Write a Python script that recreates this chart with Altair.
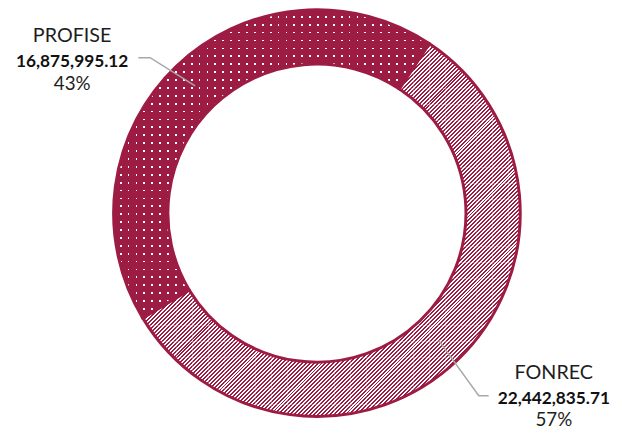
import math
import altair as alt
import pandas as pd

# ---- data ----
categories = ["FONREC", "PROFISE"]
values = [22442835.71, 16875995.12]
value_labels = ["22,442,835.71", "16,875,995.12"]
pct_labels = ["57%", "43%"]

# ---- layout / style ----
W, H = 614, 429
CX, CY = 313, 205
R_OUT, R_IN = 206, 151
START = math.radians(33.5)
RED = "#9d1c44"
WHITE = "#ffffff"
CLEAR = "rgba(157,28,68,0)"
GREY = "#a8a8a8"
FONT = "Lato"
TILE = 16  # hatch texture tile size (px)

# label anchor (name baseline x,y) and leader elbow / end, in pixels
label_pos = {"FONREC": (553, 373), "PROFISE": (65, 32)}
elbow_pos = {"FONREC": (477, 390), "PROFISE": (144, 47.5)}
end_pos = {"FONREC": (487, 390), "PROFISE": (132, 47.5)}

total = sum(values)
t0 = [sum(values[:i]) for i in range(len(values))]
t1 = [t0[i] + values[i] for i in range(len(values))]
df = pd.DataFrame({"cat": categories, "value": values, "t0": t0, "t1": t1,
                   "vlabel": value_labels, "plabel": pct_labels})


def ang(v):
    return START + 2 * math.pi * v / total


def arc_bbox(a, b):
    xs_, ys_ = [], []
    n = 600
    for k in range(n + 1):
        t = a + (b - a) * k / n
        for r in (R_OUT, R_IN):
            xs_.append(CX + r * math.sin(t))
            ys_.append(CY - r * math.cos(t))
    return min(xs_), max(xs_), min(ys_), max(ys_)


def stripe_grad(q, frac_on, on, off, x2, y2):
    """q = one period as a fraction of the gradient vector."""
    stops = []
    s = 0.0
    while s < 1 - 1e-9:
        e = min(s + q * frac_on, 1.0)
        f = min(s + q, 1.0)
        stops += [{"offset": round(s, 6), "color": on}, {"offset": round(e, 6), "color": on},
                  {"offset": round(e, 6), "color": off}, {"offset": round(f, 6), "color": off}]
        s += q
    return {"gradient": "linear", "x1": 0, "y1": 0, "x2": x2, "y2": y2, "stops": stops}


# FONREC hatch texture: tiles of TILE px with 45-degree stripes, 4px horizontal period
hatch = stripe_grad(4 / (2 * TILE), 0.5, RED, WHITE, 1, 1)
x_start, y_start = CX - R_OUT, CY - R_OUT
ntile = math.ceil(2 * R_OUT / TILE)
tiles = pd.DataFrame([{"x": x_start + TILE * i, "x2": x_start + TILE * (i + 1),
                       "y": y_start + TILE * j, "y2": y_start + TILE * (j + 1)}
                      for i in range(ntile) for j in range(ntile)])

# PROFISE: dots = white columns under red layer with clear rows (8px grid)
px0, px1, py0, py1 = arc_bbox(ang(t0[1]), ang(t1[1]))
cols = stripe_grad(8 / (px1 - px0), 6.2 / 8, RED, WHITE, 1, 0)
rows = stripe_grad(8 / (py1 - py0), 6.2 / 8, RED, CLEAR, 0, 1)

xs = alt.Scale(domain=[0, W], range=[0, W])
ys = alt.Scale(domain=[0, H], range=[0, H])
theta_scale = alt.Scale(domain=[0, total], range=[START, START + 2 * math.pi])
base = alt.Chart(df)
one = base.transform_filter(alt.datum.cat == "FONREC")

backdrop = alt.Chart(tiles).mark_rect(fill=hatch, strokeWidth=0).encode(
    x=alt.X("x:Q", scale=xs, axis=None), x2="x2:Q",
    y=alt.Y("y:Q", scale=ys, axis=None), y2="y2:Q")
mask_out = one.mark_arc(x=CX, y=CY, innerRadius=R_OUT, outerRadius=R_OUT + 200,
                        theta=0, theta2=2 * math.pi, fill=WHITE, strokeWidth=0)
mask_in = one.mark_arc(x=CX, y=CY, innerRadius=0, outerRadius=R_IN,
                       theta=0, theta2=2 * math.pi, fill=WHITE, strokeWidth=0)


def arc_layer(cat, fill, stroke=True):
    kw = dict(outerRadius=R_OUT, innerRadius=R_IN, x=CX, y=CY, fill=fill)
    if stroke:
        kw.update(stroke=RED, strokeWidth=3)
    else:
        kw.update(strokeWidth=0)
    return base.transform_filter(alt.datum.cat == cat).mark_arc(**kw).encode(
        theta=alt.Theta("t0:Q", scale=theta_scale), theta2="t1:Q")


pro_bottom = arc_layer("PROFISE", cols, stroke=False)
pro_top = arc_layer("PROFISE", rows)
fon = arc_layer("FONREC", "transparent")

# leader lines (start at slice mid-angle, mid-radius)
rmid = (R_OUT + R_IN) / 2
lrows = []
for i, c in enumerate(categories):
    a = ang((t0[i] + t1[i]) / 2)
    sx, sy = CX + rmid * math.sin(a), CY - rmid * math.cos(a)
    lrows += [{"cat": c, "o": 0, "x": sx, "y": sy},
              {"cat": c, "o": 1, "x": elbow_pos[c][0], "y": elbow_pos[c][1]},
              {"cat": c, "o": 2, "x": end_pos[c][0], "y": end_pos[c][1]}]
ldf = pd.DataFrame(lrows)

lines = alt.Chart(ldf).mark_line(color=GREY, strokeWidth=1.5).encode(
    x=alt.X("x:Q", scale=xs, axis=None),
    y=alt.Y("y:Q", scale=ys, axis=None),
    detail="cat:N", order="o:Q")

tdf = df.copy()
tdf["lx"] = [label_pos[c][0] for c in categories]
tdf["ly"] = [label_pos[c][1] for c in categories]
tdf["ly2"] = tdf["ly"] + 25
tdf["ly3"] = tdf["ly"] + 48

tbase = alt.Chart(tdf)
t_name = tbase.mark_text(font=FONT, fontSize=20, color="#1e1e1e", align="center", baseline="alphabetic").encode(
    x=alt.X("lx:Q", scale=xs, axis=None), y=alt.Y("ly:Q", scale=ys, axis=None), text="cat:N")
t_val = tbase.mark_text(font=FONT, fontSize=17.5, fontWeight="bold", color="#111111", align="center", baseline="alphabetic").encode(
    x=alt.X("lx:Q", scale=xs, axis=None), y=alt.Y("ly2:Q", scale=ys, axis=None), text="vlabel:N")
t_pct = tbase.mark_text(font=FONT, fontSize=19, color="#1e1e1e", align="center", baseline="alphabetic").encode(
    x=alt.X("lx:Q", scale=xs, axis=None), y=alt.Y("ly3:Q", scale=ys, axis=None), text="plabel:N")

chart = alt.layer(backdrop, mask_out, mask_in, pro_bottom, pro_top, fon,
                  lines, t_name, t_val, t_pct).properties(
    width=W, height=H, autosize=alt.AutoSizeParams(type="none"), padding=0
).configure_view(stroke=None)

chart.save("out.html", embed_options={"renderer": "svg", "actions": False})
